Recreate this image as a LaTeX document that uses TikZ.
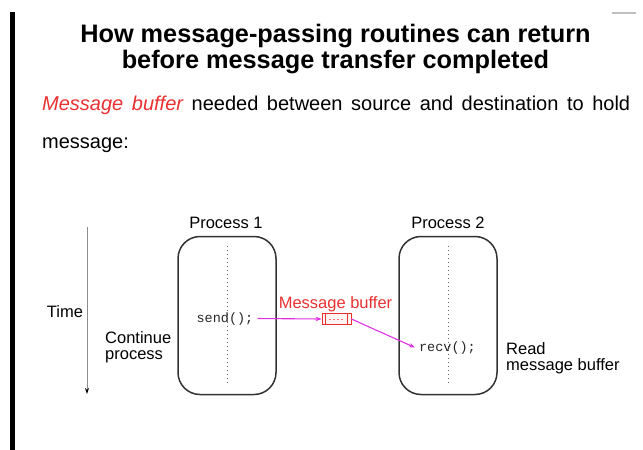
\documentclass[tikz,border=0pt]{standalone}
\usepackage{fontspec}
\setmainfont{Liberation Sans}
\setmonofont{Liberation Mono}
\usetikzlibrary{arrows.meta,calc}
\definecolor{hred}{RGB}{232,48,48}
\definecolor{hmag}{RGB}{225,50,225}
\definecolor{boxgray}{RGB}{50,50,50}
\tikzset{
  titletext/.style={font=\fontsize{25.3}{30}\selectfont\bfseries, inner sep=0pt, anchor=base},
  bodytext/.style={font=\fontsize{20}{24}\selectfont, inner sep=0pt, anchor=base west},
  lbl/.style={font=\fontsize{16.5}{19}\selectfont, inner sep=0pt},
  code/.style={font=\fontsize{13.5}{16}\selectfont\ttfamily, inner sep=4pt, text=black!85},
  procbox/.style={draw=boxgray, line width=1.5pt, rounded corners=22pt, minimum width=98pt, minimum height=158pt},
  dotline/.style={draw=black!60, line width=0.8pt, dash pattern=on 1.5pt off 2.5pt},
  msg/.style={draw=hmag, line width=1.1pt, -{Stealth[hmag,length=6pt,width=4.5pt]}},
  bufbox/.style={draw=hred, fill=hred!6, line width=0.8pt, minimum width=29pt, minimum height=11pt, inner sep=0pt},
}
\begin{document}
\begin{tikzpicture}[x=1pt,y=-1pt]
\useasboundingbox (0,0) rectangle (643,450);
% left margin bar
\fill[black] (10,12) rectangle (14.5,450);
\draw[black!25, line width=1.5pt] (612,13) -- (636,13);
% title
\node[titletext] (t1) at (335.5,42) {How message-passing routines can return};
\node[titletext] (t2) at (335.5,68) {before message transfer completed};
% body
\node[bodytext] (b1) at (42,110) {\makebox[588pt][s]{\textcolor{hred}{\itshape Message buffer} needed between source and destination to hold}};
\node[bodytext] (b2) at (42,148) {message:};
% time axis
\coordinate (ta) at (87,227);
\coordinate (tb) at (87,394);
\draw[draw=black!45, line width=1pt, -{Stealth[black,length=6pt,width=4pt]}] (ta) -- (tb);
\node[lbl, anchor=base] (time) at (65,317) {Time};
% processes
\node[procbox] (p1) at (227,315.5) {};
\node[procbox] (p2) at (448,315.5) {};
\node[lbl, anchor=base] (p1l) at (226,228) {Process 1};
\node[lbl, anchor=base] (p2l) at (448,228) {Process 2};
\draw[dotline] ([yshift=-10pt]p1.north) -- ([yshift=10pt]p1.south);
\draw[dotline] ([yshift=-10pt]p2.north) -- ([yshift=10pt]p2.south);
% code
\node[code, anchor=base] (send) at (225,322) {send();};
\node[code, anchor=base] (recv) at (447.5,351) {recv();};
% side labels
\node[lbl, anchor=base west] (cont1) at (105,343) {Continue};
\node[lbl, anchor=base west] (cont2) at (105,359) {process};
\node[lbl, anchor=base west] (read1) at (506,354) {Read};
\node[lbl, anchor=base west] (read2) at (506,370) {message buffer};
% buffer
\node[bufbox] (buf) at (336.5,319) {};
\draw[hred, line width=0.6pt] ([xshift=4pt]buf.north west) -- ([xshift=4pt]buf.south west);
\draw[hred, line width=0.6pt] ([xshift=-4pt]buf.north east) -- ([xshift=-4pt]buf.south east);
\draw[hred!70, line width=0.7pt, dash pattern=on 2pt off 2pt] ([xshift=7pt]buf.west) -- ([xshift=-7pt]buf.east);
\node[lbl, text=hred, anchor=base] (bufl) at (335.5,308) {Message buffer};
% messages
\draw[msg] (send.east) -- (buf.west);
\draw[msg] (buf.east) -- (recv.west);
\end{tikzpicture}
\end{document}
